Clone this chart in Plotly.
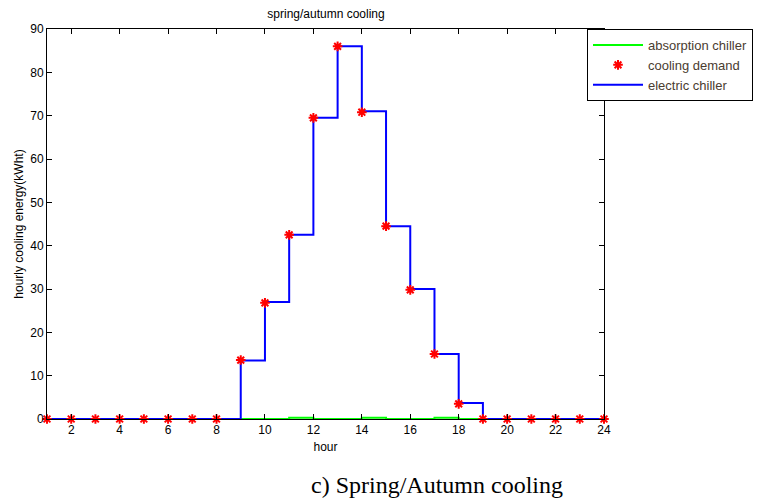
import plotly.graph_objects as go

hours = list(range(1, 25))
electric_chiller = [0, 0, 0, 0, 0, 0, 0, 0, 13.5, 27, 42.5, 69.5, 86, 71, 44.5, 30, 15, 3.7, 0, 0, 0, 0, 0, 0]
cooling_demand = [0, 0, 0, 0, 0, 0, 0, 0, 13.6, 26.8, 42.5, 69.5, 86, 70.8, 44.5, 29.8, 15, 3.5, 0, 0, 0, 0, 0, 0]
absorption_chiller = [0, 0, 0, 0, 0, 0, 0, 0, 0, 0, 0.3, 0, 0, 0.3, 0, 0, 0.3, 0, 0, 0, 0, 0, 0, 0]
x_ticks = list(range(2, 25, 2))
y_ticks = list(range(0, 91, 10))

font_main = "Liberation Sans, Arial, sans-serif"

fig = go.Figure()
fig.add_trace(go.Scatter(x=hours, y=absorption_chiller, mode="lines", line_shape="hv",
                         line=dict(color="#00ff00", width=2), name="absorption chiller",
                         legendrank=1))
fig.add_trace(go.Scatter(x=hours, y=electric_chiller, mode="lines", line_shape="hv",
                         line=dict(color="#0000ff", width=2), name="electric chiller",
                         legendrank=3))
fig.add_trace(go.Scatter(x=hours, y=cooling_demand, mode="markers",
                         marker=dict(symbol="asterisk-open", size=8, color="#ff0000",
                                     line=dict(color="#ff0000", width=2)),
                         name="cooling demand", cliponaxis=False, legendrank=2))

axis_common = dict(showline=True, linecolor="black", linewidth=1, mirror="ticks",
                   ticks="inside", ticklen=5, tickcolor="black", showgrid=False,
                   zeroline=False, tickfont=dict(family=font_main, size=12, color="black"))

fig.update_layout(
    width=764, height=499,
    margin=dict(l=47, r=159, t=29, b=80),
    paper_bgcolor="white", plot_bgcolor="white",
    title=dict(text="spring/autumn cooling", x=(47 + 605) / 2 / 764, xanchor="center",
               y=1 - 14 / 499, yanchor="middle",
               font=dict(family=font_main, size=12, color="black")),
    xaxis=dict(range=[1, 24], tickvals=x_ticks, title=dict(text="hour", standoff=6,
               font=dict(family=font_main, size=12, color="black")), **axis_common),
    yaxis=dict(range=[0, 90], tickvals=y_ticks, title=dict(text="hourly cooling energy(kWht)", standoff=4,
               font=dict(family=font_main, size=12, color="black")), **axis_common),
    legend=dict(x=(587 - 47) / 558, xanchor="left", y=1, yanchor="top",
                bordercolor="black", borderwidth=1, bgcolor="white",
                font=dict(family=font_main, size=13, color="#4a3c30"),
                tracegroupgap=0, itemwidth=50),
    showlegend=True,
    annotations=[dict(text="c) Spring/Autumn cooling", xref="paper", yref="paper",
                      x=(438 - 47) / 558, y=-(485 - 419) / 390, xanchor="center", yanchor="middle",
                      showarrow=False,
                      font=dict(family="Liberation Serif, Times New Roman, serif", size=24, color="black"))],
)

fig.write_html("out.html")
